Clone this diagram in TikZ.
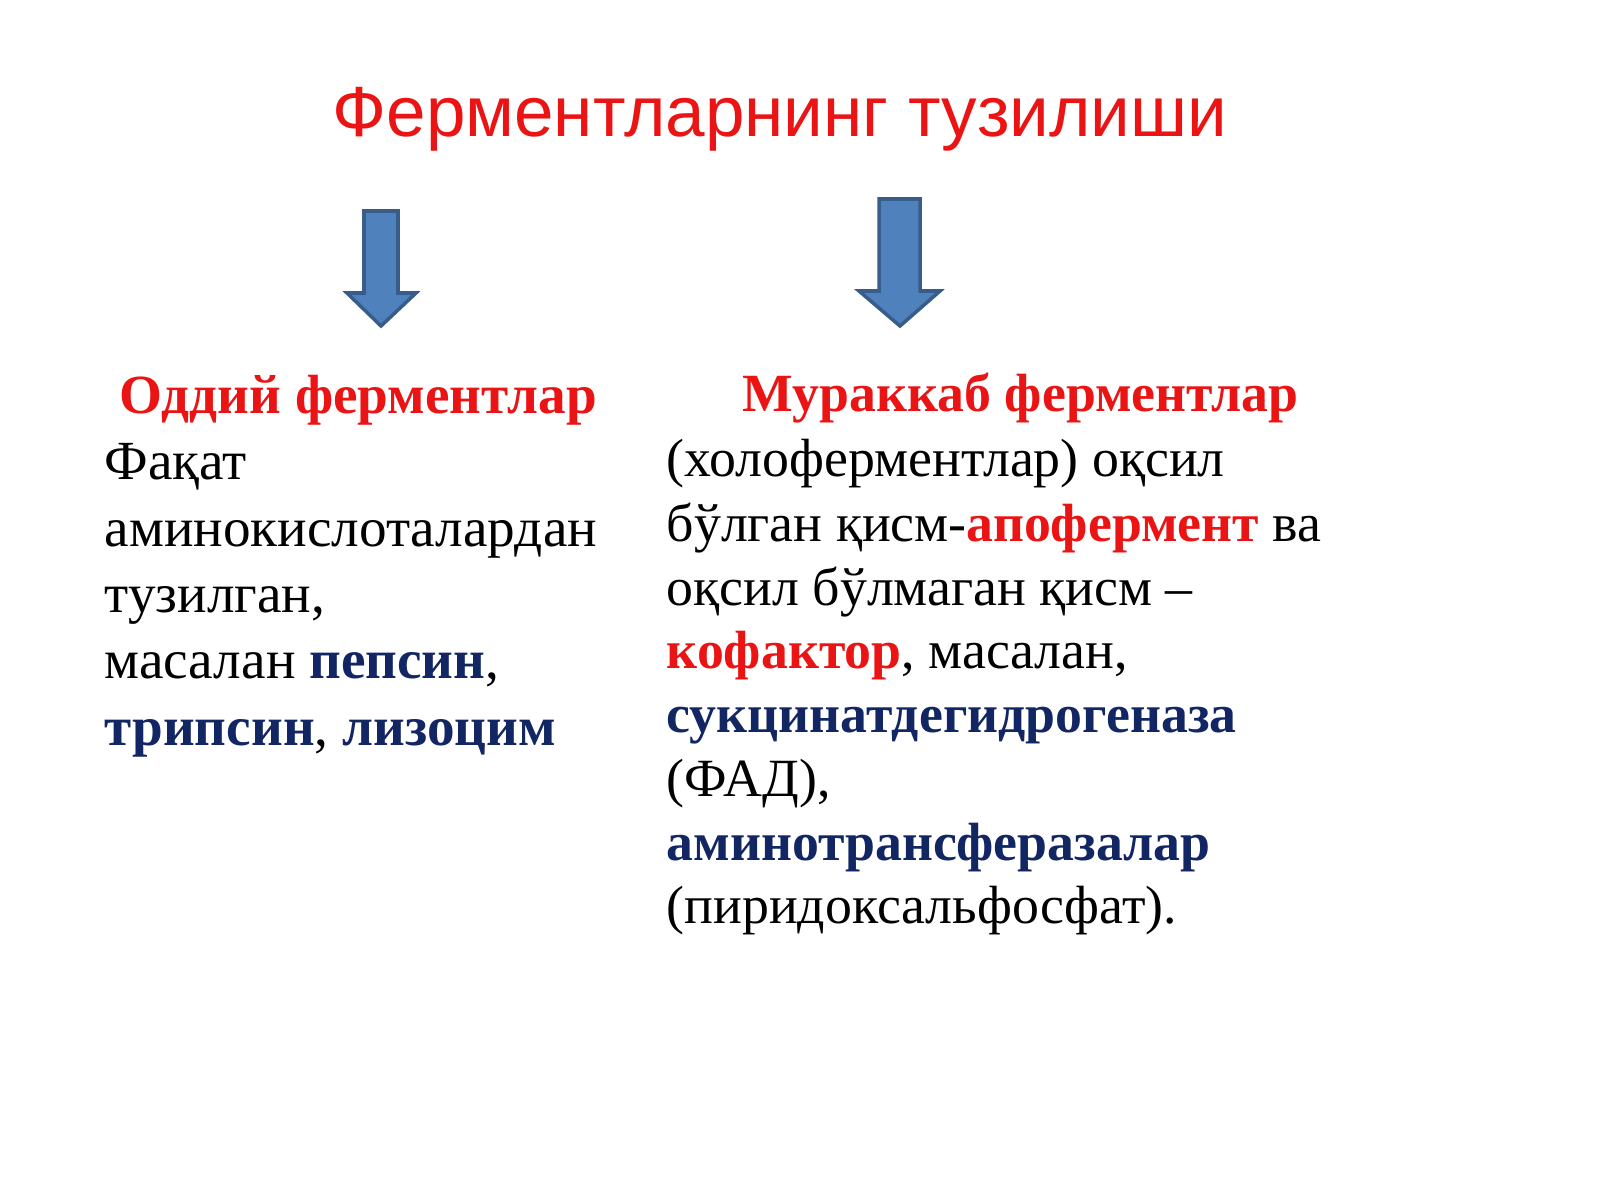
\documentclass[tikz,border=0pt]{standalone}
\usepackage{fontspec}
\setmainfont{Liberation Serif}
\newfontfamily\titlefont{Liberation Sans}
\definecolor{rd}{RGB}{235,20,20}
\definecolor{nv}{RGB}{18,38,100}
\definecolor{ab}{RGB}{79,129,189}
\definecolor{abd}{RGB}{56,93,138}
\begin{document}
\begin{tikzpicture}[x=0.01cm,y=-0.01cm,
  ln/.style={anchor=base west,inner sep=0pt,font=\fontsize{15.7}{18}\selectfont},
  rn/.style={anchor=base west,inner sep=0pt,font=\fontsize{15.3}{18}\selectfont},
  arr/.style={fill=ab,draw=abd,line width=1pt,line join=miter}]
\useasboundingbox (0,0) rectangle (1600,1200);
\node[font=\titlefont\fontsize{20.2}{24}\selectfont,text=rd] (title) at (780,119) {Ферментларнинг тузилиши};
\draw[arr] (364,211) -- (398,211) -- (398,293) -- (416,293) -- (381,326) -- (347,293) -- (364,293) -- cycle;
\draw[arr] (879,199) -- (920,199) -- (920,291) -- (940,291) -- (900,326) -- (859,291) -- (879,291) -- cycle;
\node[ln,text=rd,font=\bfseries\fontsize{15.7}{18}\selectfont] (lh) at (119,413) {Оддий ферментлар};
\node[ln] (l1) at (104,479) {Фақат};
\node[ln] (l2) at (104,546) {аминокислоталардан};
\node[ln] (l3) at (104,612) {тузилган,};
\node[ln] (l4) at (104,678) {масалан \textbf{\color{nv}пепсин},};
\node[ln] (l5) at (104,745) {\textbf{\color{nv}трипсин}, \textbf{\color{nv}лизоцим}};
\node[rn,text=rd,font=\bfseries\fontsize{15.3}{18}\selectfont] (rh) at (742,411) {Мураккаб ферментлар};
\node[rn] (r1) at (666,476) {(холоферментлар) оқсил};
\node[rn] (r2) at (666,541) {бўлган қисм-\textbf{\color{rd}апофермент} ва};
\node[rn] (r3) at (666,605) {оқсил бўлмаган қисм –};
\node[rn] (r4) at (666,668) {\textbf{\color{rd}кофактор}, масалан,};
\node[rn] (r5) at (666,732) {\textbf{\color{nv}сукцинатдегидрогеназа}};
\node[rn] (r6) at (666,796) {(ФАД),};
\node[rn] (r7) at (666,860) {\textbf{\color{nv}аминотрансферазалар}};
\node[rn] (r8) at (666,923) {(пиридоксальфосфат).};
\end{tikzpicture}
\end{document}
